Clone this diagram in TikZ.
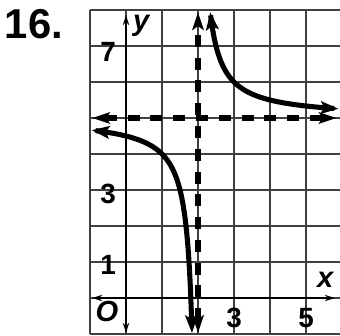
\documentclass[tikz,border=0pt]{standalone}
\usepackage{fontspec}
\setmainfont{Liberation Sans}
\usetikzlibrary{arrows.meta}

\begin{document}
\begin{tikzpicture}
    \tikzset{
    gridline/.style={line width=1.1pt, black!75},
    numlbl/.style={font=\fontsize{22}{22}\selectfont\bfseries, inner sep=0pt},
    varlbl/.style={font=\fontsize{23}{23}\selectfont\bfseries\itshape, inner sep=0pt},
    axisline/.style={line width=2pt, {Stealth[length=8pt,width=5pt]}-{Stealth[length=8pt,width=5pt]}},
    asymline/.style={line width=4pt, dash pattern=on 9.5pt off 8.5pt, {Stealth[length=14pt,width=9pt,inset=3pt]}-{Stealth[length=14pt,width=9pt,inset=3pt]}},
    branch/.style={line width=4pt, {Stealth[length=14pt,width=10pt,inset=3pt]}-{Stealth[length=14pt,width=10pt,inset=3pt]}}
    }
    \useasboundingbox (-3.5,-1.028) rectangle (5.944,8.278);

    % grid
    \foreach \i in {-1,...,5}
        \draw[gridline] (\i,-1) -- (\i,8);
    \foreach \j in {-1,...,8}
        \draw[gridline] (-1,\j) -- (5.944,\j);

    % axes
    \coordinate (xl) at (-0.94,0);
    \coordinate (xr) at (5.8,0);
    \coordinate (yb) at (0,-0.97);
    \coordinate (yt) at (0,7.86);
    \draw[axisline] (xl) -- (xr);
    \draw[axisline] (yb) -- (yt);

    % asymptotes
    \coordinate (hl) at (-0.94,5);
    \coordinate (hr) at (5.85,5);
    \coordinate (vb) at (2,-0.97);
    \coordinate (vt) at (2,7.94);
    \draw[asymline] (hl) -- (hr);
    \draw[asymline] (vb) -- (vt);

    % branches
    \draw[branch] plot[domain=-1.082:1.787, samples=80] ({2-exp(-\x)},{5-exp(\x)});
    \draw[branch] plot[domain=1.078:-1.361, samples=80] ({2+exp(-\x)},{5+exp(\x)});

    % labels
    \node (num) at (-2.56,7.61) {\fontsize{33}{33}\selectfont\bfseries 16.};
    \node (l7) [numlbl] at (-0.5,6.83) {7};
    \node (l3) [numlbl] at (-0.5,2.89) {3};
    \node (l1) [numlbl] at (-0.5,0.92) {1};
    \node (lo) [varlbl] at (-0.53,-0.36) {O};
    \node (lx) [varlbl] at (5.53,0.5) {x};
    \node (ly) [varlbl] at (0.42,7.55) {y};
    \node (x3) [numlbl] at (3,-0.55) {3};
    \node (x5) [numlbl] at (5,-0.55) {5};
\end{tikzpicture}
\end{document}
